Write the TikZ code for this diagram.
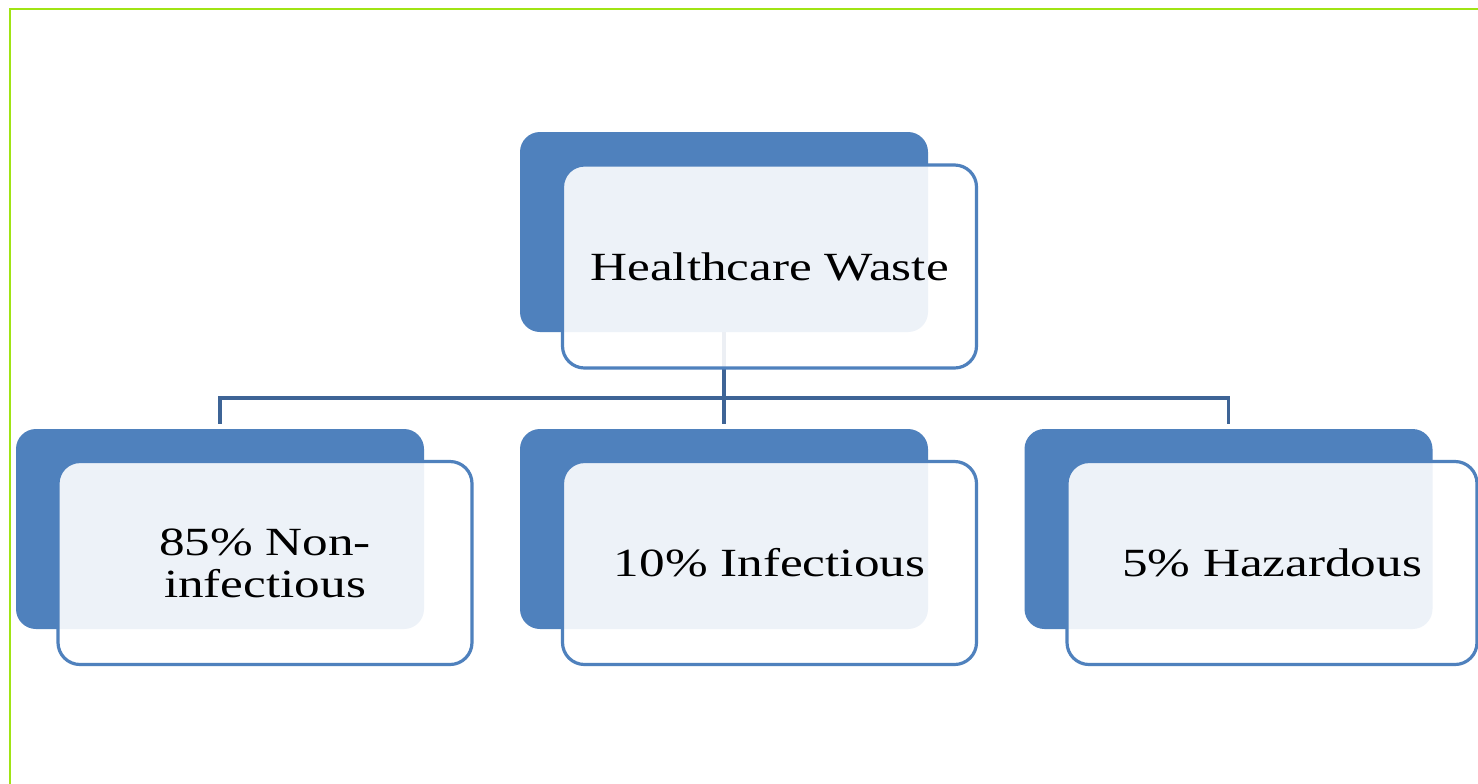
\documentclass[tikz,border=0pt]{standalone}
\usepackage{fontspec}
\setmainfont{Liberation Serif}
\definecolor{backblue}{RGB}{79,129,189}
\definecolor{connblue}{RGB}{62,100,150}
\definecolor{limeframe}{RGB}{160,228,20}
\tikzset{
  backbox/.style={draw=none, fill=backblue, rounded corners=10pt, minimum width=204pt, minimum height=100pt, inner sep=0pt},
  frontbox/.style={draw=backblue, line width=1.6pt, fill=white, fill opacity=0.9, text opacity=1, rounded corners=11pt, minimum width=207pt, minimum height=101.5pt, inner sep=0pt, align=center, font=\fontsize{20}{20}\selectfont},
  conn/.style={draw=connblue, line width=1.6pt},
}
\newcommand{\wide}[1]{\scalebox{1.28}[1]{#1}}
\begin{document}
\begin{tikzpicture}[x=0.5pt,y=-0.5pt]
\useasboundingbox (0,0) rectangle (1478,783);
\fill[white] (0,0) rectangle (1478,783);
\draw[limeframe, line width=1.4pt] (10,9) rectangle (1500,810);
% back boxes
\node[backbox] (tb) at (724,232) {};
\node[backbox] (b1) at (220,529) {};
\node[backbox] (b2) at (724,529) {};
\node[backbox] (b3) at (1228.5,529) {};
% connectors
\coordinate (bus) at (724,398);
\draw[conn, shorten <=2.5pt, shorten >=2.5pt] (b1.north) |- (bus -| b3.north) -- (b3.north);
\draw[conn, shorten >=2.5pt] (tb.south) -- (b2.north);
% front boxes
\node[frontbox] (tf) at (769.5,266.5) {\wide{Healthcare Waste}};
\node[frontbox] (f1) at (265,563) {\wide{85\% Non-}\\[1pt]\wide{infectious}};
\node[frontbox] (f2) at (769.5,563) {\wide{10\% Infectious}};
\node[frontbox, minimum width=205pt] (f3) at (1272,563) {\wide{5\% Hazardous}};
\end{tikzpicture}
\end{document}
